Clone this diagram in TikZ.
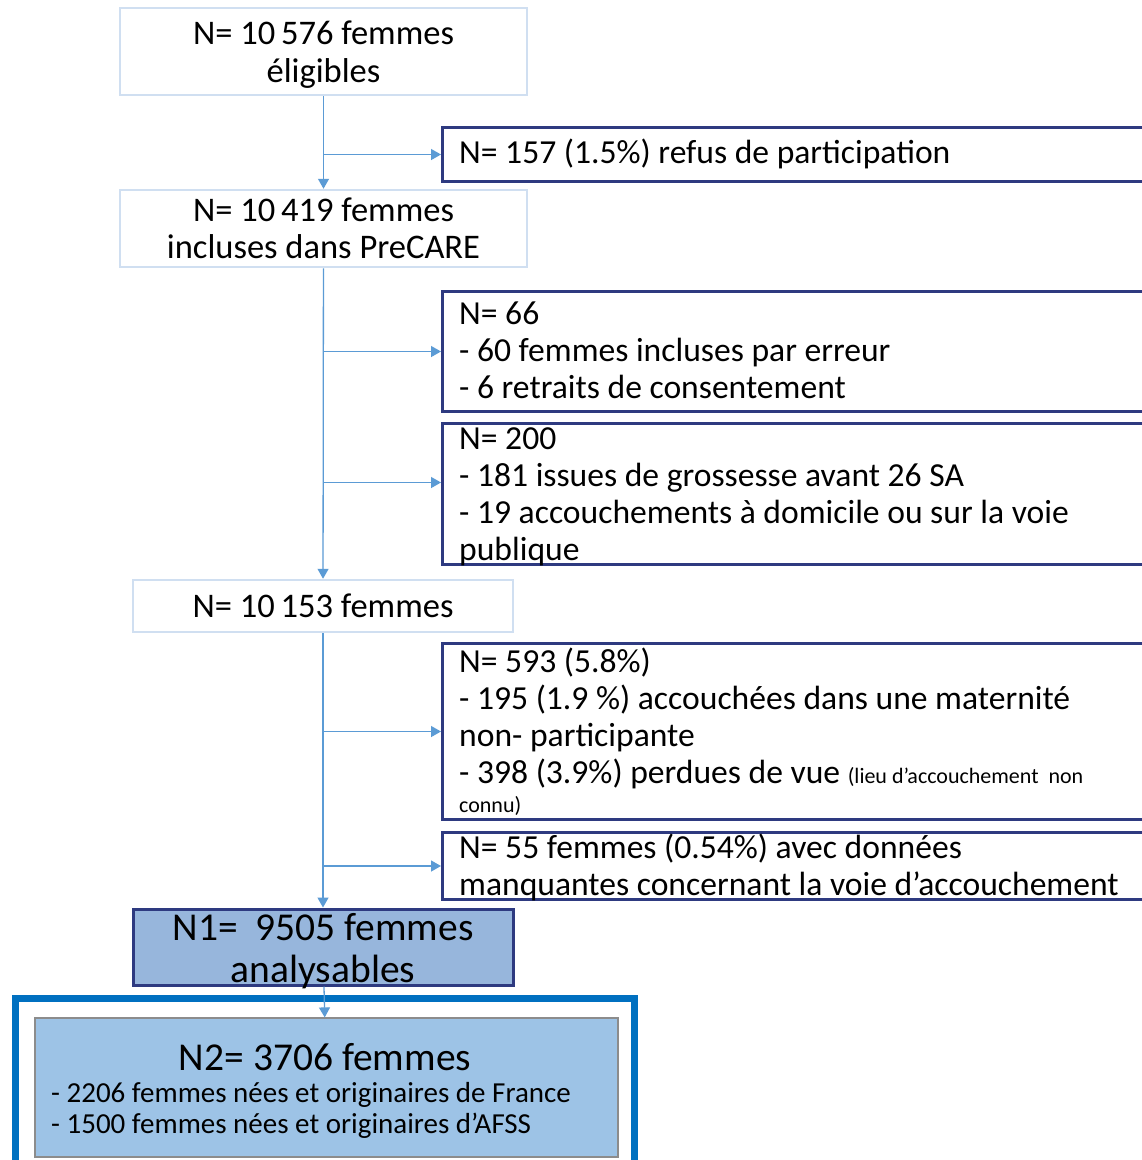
\documentclass[tikz,border=0pt]{standalone}
\usepackage{fontspec}
\setmainfont{Carlito}
\usetikzlibrary{arrows.meta,positioning,calc}
\definecolor{trunk}{HTML}{5B9BD5}
\definecolor{paleedge}{HTML}{D0DFF1}
\definecolor{navy}{HTML}{2E3A80}
\definecolor{nonefill}{HTML}{97B6DC}
\definecolor{framecol}{HTML}{0070C0}
\definecolor{ntwofill}{HTML}{9DC3E6}
\tikzset{
  leftbox/.style={draw=paleedge, line width=2.5pt, fill=white, align=center, inner sep=0pt, font=\fontsize{34.5}{37.5}\selectfont},
  sidebox/.style={draw=navy, line width=3pt, fill=white, anchor=north west, minimum width=740pt, inner sep=0pt},
  sidetext/.style={anchor=north west, align=left, inner sep=0pt, font=\fontsize{33.6}{37}\selectfont},
  flow/.style={draw=trunk, line width=1.3pt, -{Triangle[length=10pt,width=11pt]}}
}
\begin{document}
\begin{tikzpicture}[x=1pt, y=-1pt]
\useasboundingbox (0,0) rectangle (1142,1160);
\clip (0,0) rectangle (1142,1160);
\fill[white] (0,0) rectangle (1142,1160);
% outer frame
\draw[framecol, line width=7pt] (15.5,998.5) rectangle (634.5,1175);
% main column
\node[leftbox, text depth=0pt, minimum width=407pt, minimum height=87pt] (elig) at (323.5,51.5) {N= 10\,576 femmes\\éligibles};
\node[leftbox, minimum width=407pt, minimum height=77pt] (incl) at (323.5,228.5) {N= 10\,419 femmes\\incluses dans PreCARE};
\node[leftbox, minimum width=380pt, minimum height=52pt] (rest) at (323,606) {N= 10\,153 femmes};
\node[draw=navy, line width=3pt, fill=nonefill, minimum width=380pt, minimum height=76pt, inner sep=0pt] (ana) at (323,947) {};
\node[align=center, inner sep=0pt, font=\fontsize{39.5}{42}\selectfont] (anatext) at (323,951) {N1= \ 9505 femmes\\analysables};
\node[draw=black!45, line width=1.2pt, fill=ntwofill, minimum width=583pt, minimum height=139pt, inner sep=0pt] (final) at (326.5,1087.5) {};
\node[inner sep=0pt, font=\fontsize{39.5}{42}\selectfont] (finaltitle) at (325,1057) {N2= 3706 femmes};
\node[anchor=west, align=left, inner sep=0pt, font=\fontsize{29}{31}\selectfont] (finaltext) at (51,1110) {- 2206 femmes nées et originaires de France\\- 1500 femmes nées et originaires d’AFSS};
% exclusions
\node[sidebox, minimum height=54pt] (refus) at (441,126) {};
\node[sidetext] (refustext) at (459,139) {N= 157 (1.5\%) refus de participation};
\node[sidebox, minimum height=120pt] (erreur) at (441,290) {};
\node[sidetext] (erreurtext) at (459,301.5) {N= 66\\- 60 femmes incluses par erreur\\- 6 retraits de consentement};
\node[sidebox, minimum height=141pt] (issues) at (441,422) {};
\node[sidetext] (issuestext) at (459,427) {N= 200\\- 181 issues de grossesse avant 26 SA\\- 19 accouchements à domicile ou sur la voie\\publique};
\node[sidebox, minimum height=176pt] (perdues) at (441,642) {};
\node[sidetext] (perduestext) at (459,648) {N= 593 (5.8\%)\\- 195 (1.9 \%) accouchées dans une maternité\\non- participante\\- 398 (3.9\%) perdues de vue {\fontsize{22}{26}\selectfont (lieu d’accouchement \ non}\\[-8pt]{\fontsize{22}{26}\selectfont connu)}};
\node[sidebox, minimum height=67pt] (manq) at (441,831) {};
\node[sidetext] (manqtext) at (459,834) {N= 55 femmes (0.54\%) avec données\\manquantes concernant la voie d’accouchement};
% connectors
\coordinate (b1) at (elig.south |- refus.west);
\coordinate (b2) at (incl.south |- erreur.west);
\coordinate (b3) at ($(incl.south)!0.69!(rest.north)$);
\coordinate (b4) at (rest.south |- perdues.west);
\coordinate (b5) at (rest.south |- manq.west);
\draw[flow] (elig) -- (incl);
\draw[flow] (incl) -- (rest);
\draw[flow] (rest) -- (ana);
\draw[flow] (ana) -- (final);
\draw[flow] (b1) -- (refus.west);
\draw[flow] (b2) -- (erreur.west);
\draw[flow] (b3) -- (b3 -| issues.west);
\draw[flow] (b4) -- (perdues.west);
\draw[flow] (b5) -- (manq.west);
\end{tikzpicture}
\end{document}
